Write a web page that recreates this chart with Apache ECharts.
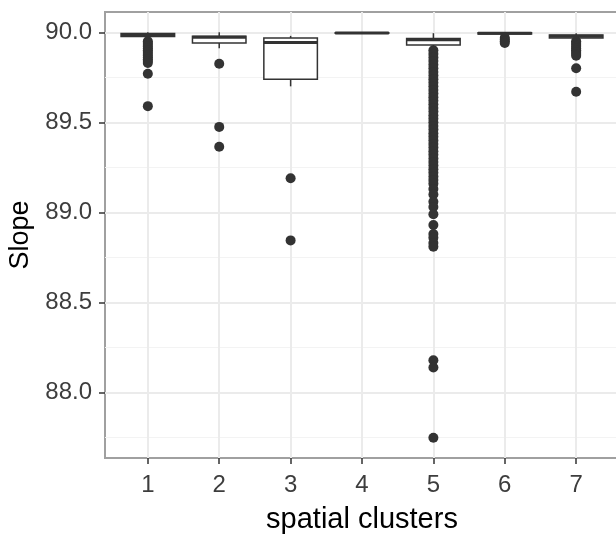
<!DOCTYPE html>
<html>
<head>
<meta charset="utf-8">
<script src="https://cdn.jsdelivr.net/npm/echarts@6/dist/echarts.min.js"></script>
<style>
  html, body { margin: 0; padding: 0; background: #ffffff; }
  #chart { width: 616px; height: 540px; }
</style>
</head>
<body>
<div id="chart"></div>
<script>
// Cluster labels on the x axis
const clusters = ['1', '2', '3', '4', '5', '6', '7'];

// Box statistics per cluster: [lower whisker, Q1, median, Q3, upper whisker]
const boxStats = [
  [89.955, 89.977, 89.987, 89.993, 90.000],
  [89.912, 89.940, 89.973, 89.978, 90.000],
  [89.700, 89.740, 89.943, 89.968, 89.980],
  [89.990, 89.994, 89.996, 89.998, 90.000],
  [89.905, 89.930, 89.958, 89.965, 89.995],
  [89.985, 89.990, 89.995, 89.998, 90.000],
  [89.955, 89.968, 89.978, 89.985, 89.995]
];

// Outlying slope values per cluster
const outliers1 = [89.95, 89.94, 89.93, 89.92, 89.91, 89.90, 89.89, 89.88, 89.87,
                   89.86, 89.85, 89.84, 89.83, 89.77, 89.59];
const outliers2 = [89.825, 89.475, 89.365];
const outliers3 = [89.19, 88.845];
const outliers4 = [];
const outliers5 = [89.90, 89.88, 89.86, 89.84, 89.82, 89.80, 89.78, 89.76, 89.74,
                   89.72, 89.70, 89.68, 89.66, 89.64, 89.62, 89.60, 89.58, 89.56,
                   89.54, 89.52, 89.50, 89.48, 89.46, 89.44, 89.42, 89.40, 89.38,
                   89.36, 89.34, 89.32, 89.30, 89.28, 89.26, 89.24, 89.22, 89.20,
                   89.18, 89.16, 89.13, 89.10, 89.06, 89.03, 88.99, 88.93, 88.88,
                   88.86, 88.83, 88.81, 88.18, 88.14, 87.75];
const outliers6 = [89.97, 89.96, 89.95, 89.94];
const outliers7 = [89.95, 89.94, 89.93, 89.92, 89.91, 89.90, 89.89, 89.88, 89.87,
                   89.80, 89.67];
const outlierSets = [outliers1, outliers2, outliers3, outliers4, outliers5, outliers6, outliers7];

// Tick values
const yTicks = [88.0, 88.5, 89.0, 89.5, 90.0];
const yMinorGrid = [87.75, 88.25, 88.75, 89.25, 89.75];
const xTicks = clusters.map(Number);

// Axis extents (data range plus 5% padding; discrete axis padded by 0.6)
const yMin = 87.6375, yMax = 90.1125;
const xMin = 0.4, xMax = 7.6;

const INK = '#333333';
const GRID = '#ebebeb';
const FONT = 'Liberation Sans, Arial, sans-serif';
const BOX_WIDTH = 0.75;

const boxData = boxStats.map((s, i) => [xTicks[i]].concat(s));
const outlierData = [];
outlierSets.forEach((set, i) => set.forEach(v => outlierData.push([xTicks[i], v])));

function renderBox(params, api) {
  const x = api.value(0);
  const lo = api.coord([x, api.value(1)]);
  const q1 = api.coord([x, api.value(2)]);
  const md = api.coord([x, api.value(3)]);
  const q3 = api.coord([x, api.value(4)]);
  const hi = api.coord([x, api.value(5)]);
  const half = api.size([BOX_WIDTH, 0])[0] / 2;
  const lineStyle = { stroke: INK, lineWidth: 1.5, fill: null };
  return {
    type: 'group',
    children: [
      { type: 'line', shape: { x1: q3[0], y1: q3[1], x2: hi[0], y2: hi[1] }, style: lineStyle },
      { type: 'line', shape: { x1: lo[0], y1: lo[1], x2: q1[0], y2: q1[1] }, style: lineStyle },
      { type: 'rect', shape: { x: q3[0] - half, y: q3[1], width: half * 2, height: q1[1] - q3[1] },
        style: { fill: '#ffffff', stroke: INK, lineWidth: 1.5 } },
      { type: 'line', shape: { x1: md[0] - half, y1: md[1], x2: md[0] + half, y2: md[1] },
        style: { stroke: INK, lineWidth: 3 } }
    ]
  };
}

const gridLines = []
  .concat(yMinorGrid.map(v => ({ yAxis: v, lineStyle: { color: '#f3f3f3', width: 1, type: 'solid' } })))
  .concat(yTicks.map(v => ({ yAxis: v, lineStyle: { color: GRID, width: 2, type: 'solid' } })))
  .concat(xTicks.map(v => ({ xAxis: v, lineStyle: { color: GRID, width: 2, type: 'solid' } })));

const chart = echarts.init(document.getElementById('chart'), null, { renderer: 'canvas' });
chart.setOption({
  animation: false,
  backgroundColor: '#ffffff',
  grid: {
    left: 105, top: 12, width: 514, height: 446,
    containLabel: false, outerBoundsMode: 'none',
    show: true, borderColor: '#a0a0a0', borderWidth: 2, backgroundColor: '#ffffff'
  },
  xAxis: {
    type: 'value', min: xMin, max: xMax,
    name: 'spatial clusters', nameLocation: 'middle', nameGap: 47,
    nameTextStyle: { fontSize: 29, color: '#000000', fontFamily: FONT },
    axisLine: { show: true, onZero: false, lineStyle: { color: '#a0a0a0', width: 2 } },
    axisTick: { show: true, length: 6, customValues: xTicks, lineStyle: { color: INK, width: 1.5 } },
    axisLabel: { customValues: xTicks, margin: 15, fontSize: 24, color: '#3d3d3d', fontFamily: FONT,
                 formatter: v => clusters[v - 1] },
    splitLine: { show: false }
  },
  yAxis: {
    type: 'value', min: yMin, max: yMax,
    name: 'Slope', nameLocation: 'middle', nameGap: 65, nameRotate: 90,
    nameTextStyle: { fontSize: 27, color: '#000000', fontFamily: FONT },
    axisLine: { show: true, onZero: false, lineStyle: { color: '#a0a0a0', width: 2 } },
    axisTick: { show: true, length: 6, customValues: yTicks, lineStyle: { color: INK, width: 1.5 } },
    axisLabel: { customValues: yTicks, margin: 13, fontSize: 24, color: '#3d3d3d', fontFamily: FONT,
                 formatter: v => v.toFixed(1) },
    splitLine: { show: false }
  },
  series: [
    {
      type: 'scatter', data: [], silent: true,
      markLine: { silent: true, symbol: 'none', z: 1, label: { show: false }, data: gridLines }
    },
    {
      type: 'custom', z: 10, silent: true,
      renderItem: renderBox,
      encode: { x: 0, y: [1, 2, 3, 4, 5] },
      data: boxData
    },
    {
      type: 'scatter', z: 11, silent: true,
      symbol: 'circle', symbolSize: 10,
      itemStyle: { color: INK, opacity: 1 },
      data: outlierData
    }
  ]
});
</script>
</body>
</html>
